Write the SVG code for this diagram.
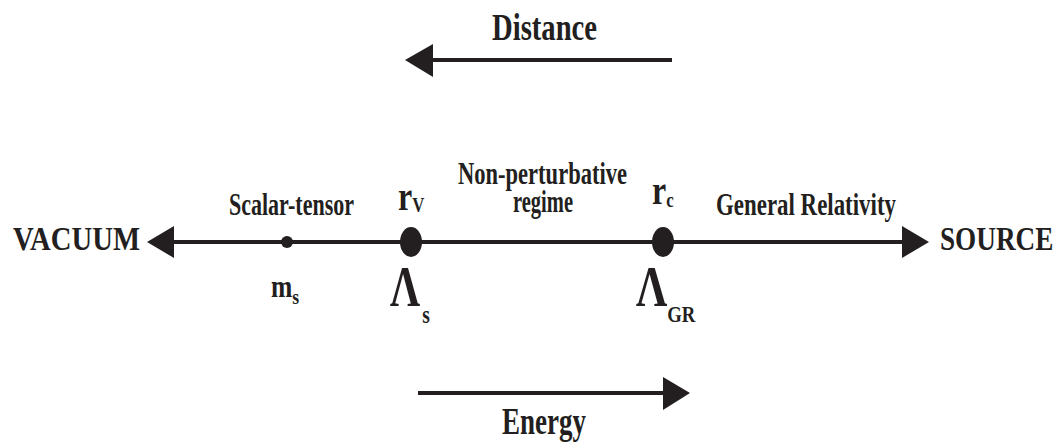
<svg xmlns="http://www.w3.org/2000/svg" width="1063" height="448" viewBox="0 0 1063 448">
<style>
.ln{stroke:#231f20;stroke-width:4;fill:none}
.hd{fill:#231f20}
</style>
<rect width="1063" height="448" fill="#fff"/>
<g id="connectors">
<line class="ln" x1="430" y1="60" x2="672" y2="60"/>
<polygon class="hd" points="405,60 433,44 433,77"/>
<line class="ln" x1="418" y1="393" x2="665" y2="393"/>
<polygon class="hd" points="690,393 663,377 663,410"/>
<line class="ln" x1="170" y1="242" x2="905" y2="242"/>
<polygon class="hd" points="147,242 174,226 174,258"/>
<polygon class="hd" points="929,242 902,226 902,258"/>
</g>
<g id="labels" font-family="Liberation Serif, serif" font-weight="bold" fill="#231f20">
<g id="distance"><text x="492" y="40" font-size="38" textLength="105" lengthAdjust="spacingAndGlyphs">Distance</text></g>
<g id="energy"><text x="502" y="434" font-size="37" textLength="84" lengthAdjust="spacingAndGlyphs">Energy</text></g>
<g id="vacuum"><text x="13" y="250" font-size="34" textLength="127" lengthAdjust="spacingAndGlyphs">VACUUM</text></g>
<g id="source"><text transform="translate(940,250) scale(0.8,1)" font-size="34">SOURCE</text></g>
<g id="scalar-tensor"><text x="229" y="215" font-size="32" textLength="125" lengthAdjust="spacingAndGlyphs">Scalar-tensor</text></g>
<g id="nonpert">
<text x="458" y="184" font-size="31" textLength="169" lengthAdjust="spacingAndGlyphs">Non-perturbative</text>
<text x="513" y="212" font-size="31" textLength="60" lengthAdjust="spacingAndGlyphs">regime</text>
</g>
<g id="gr"><text x="716" y="215" font-size="32" textLength="180" lengthAdjust="spacingAndGlyphs">General Relativity</text></g>
<g id="ms">
<circle class="hd" cx="287" cy="242" r="6"/>
<text transform="translate(271,297) scale(0.8,1)" font-size="32">m<tspan font-size="22" dy="7">s</tspan></text>
</g>
<g id="rv">
<ellipse class="hd" cx="411" cy="242" rx="11" ry="15"/>
<text transform="translate(398,210) scale(0.8,1)" font-size="40">r<tspan font-size="21" dy="2">V</tspan></text>
<text transform="translate(390,306) scale(0.75,1)" font-size="56">Λ<tspan font-size="26" dx="3" dy="17">s</tspan></text>
</g>
<g id="rc">
<ellipse class="hd" cx="663" cy="242" rx="11" ry="15"/>
<text transform="translate(652,204) scale(0.8,1)" font-size="40">r<tspan font-size="21" dy="3">c</tspan></text>
<text transform="translate(636,306) scale(0.78,1)" font-size="56">Λ<tspan font-size="24" dy="16">GR</tspan></text>
</g>
</g>
</svg>
